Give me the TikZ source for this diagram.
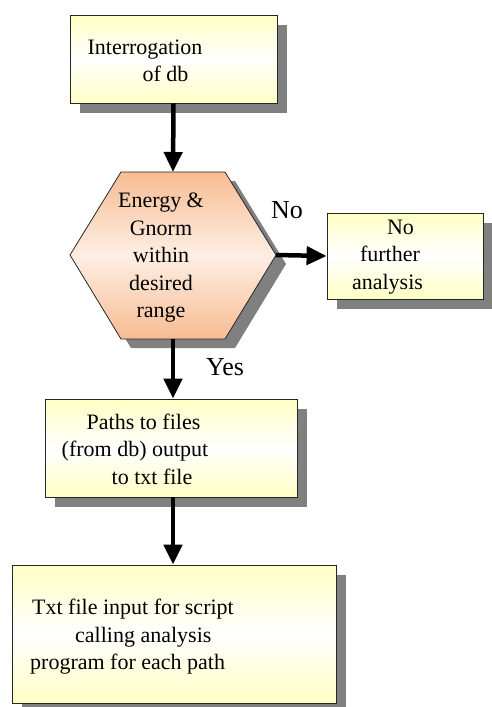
\documentclass[tikz,border=0pt]{standalone}
\usepackage{fontspec}
\setmainfont{Liberation Serif}
\usetikzlibrary{arrows.meta,shadows}
\definecolor{boxyellow}{HTML}{FFFFC4}
\definecolor{hexorange}{HTML}{F7BC92}
\definecolor{shadowgray}{HTML}{808080}
\begin{document}
\begin{tikzpicture}[x=1pt,y=-1pt,
  box/.style={draw=black!85, line width=0.8pt, top color=boxyellow, bottom color=boxyellow, middle color=white,
    drop shadow={shadow xshift=10pt, shadow yshift=-10pt, fill=shadowgray, opacity=1}},
  txt/.style={font=\fontsize{22}{27.5}\selectfont, inner sep=0pt},
  lbl/.style={font=\fontsize{26}{30}\selectfont, inner sep=0pt},
  flow/.style={line width=4.5pt, -{Triangle[length=20pt, width=18pt]}}]
\useasboundingbox (0,0) rectangle (491,707);
% boxes
\node[box, minimum width=207pt, minimum height=88pt] (interrog) at (173.5,59) {};
\node[txt, align=left] (interrogtxt) at (145,61) {Interrogation\\\hspace*{55pt}of db};
\node[box, minimum width=156pt, minimum height=86pt] (nofurther) at (405,256) {};
\node[txt, align=left] (nofurthertxt) at (387.5,257) {\hspace*{35pt}No\\\hspace*{8pt}further\\analysis};
\node[box, minimum width=252pt, minimum height=98pt] (paths) at (171,448) {};
\node[txt, align=left] (pathstxt) at (135,449) {\hspace*{25pt}Paths to files\\(from db) output\\\hspace*{50pt}to txt file};
\node[box, minimum width=324pt, minimum height=138pt] (txtinput) at (174,634) {};
\node[txt, align=left] (txtinputtxt) at (132,637) {\hspace*{2pt}Txt file input for script\\\hspace*{45pt}calling analysis\\program for each path};
% decision
\coordinate (hexN) at (173,172);
\coordinate (hexE) at (276,255);
\coordinate (hexS) at (173,339);
\path[draw=black!85, line width=0.8pt, top color=hexorange, bottom color=hexorange, middle color=hexorange!25,
  drop shadow={shadow xshift=10pt, shadow yshift=-9pt, fill=shadowgray, opacity=1}]
  (70,255) -- (121,172) -- (225,172) -- (hexE) -- (225,339) -- (121,339) -- cycle;
\node[txt, align=center] (energy) at (161,258) {Energy \&\\Gnorm\\within\\desired\\range};
% connectors
\draw[flow] (interrog.south) -- (hexN);
\draw[flow] (hexE) -- (nofurther.west);
\draw[flow] (hexS) -- (hexS |- paths.north);
\draw[flow] (paths.south -| hexS) -- (hexS |- txtinput.north);
\node[lbl] (no) at (287,210) {No};
\node[lbl] (yes) at (225,367) {Yes};
\end{tikzpicture}
\end{document}
